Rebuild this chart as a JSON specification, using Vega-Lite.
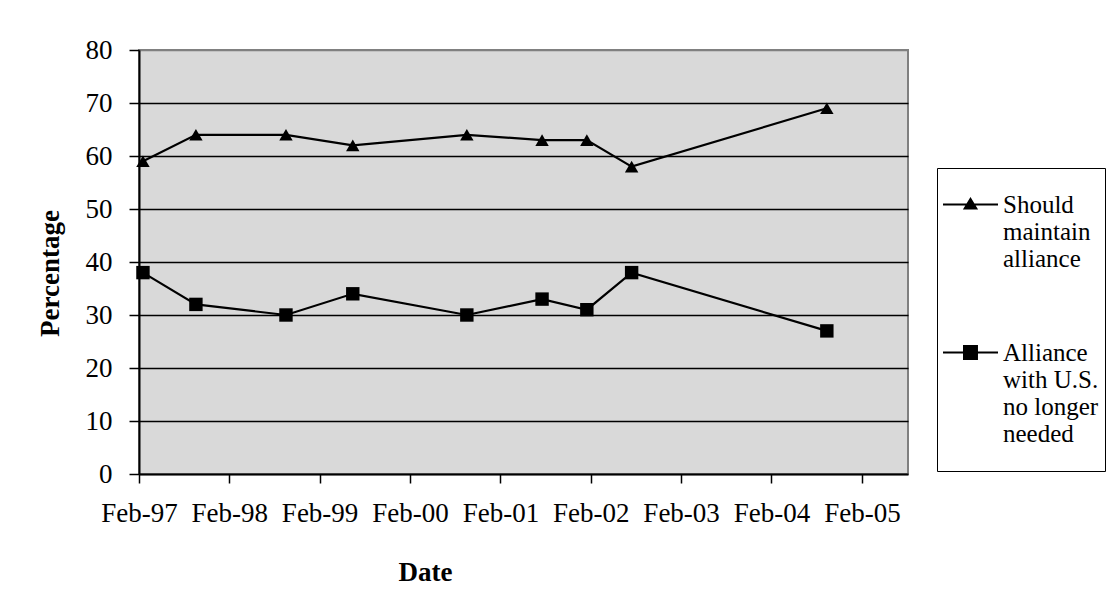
{
  "$schema": "https://vega.github.io/schema/vega-lite/v6.json",
  "width": 769,
  "height": 424,
  "autosize": {"type": "none"},
  "padding": {"left": 139, "top": 50, "right": 201, "bottom": 128},
  "background": "white",
  "config": {
    "font": "Liberation Serif",
    "view": {"fill": "#d9d9d9", "stroke": "#808080", "strokeWidth": 2}
  },
  "data": {
    "values": [
      {"date": "1997-02-17", "series": "Should maintain alliance", "value": 59},
      {"date": "1997-09-19", "series": "Should maintain alliance", "value": 64},
      {"date": "1998-09-18", "series": "Should maintain alliance", "value": 64},
      {"date": "1999-06-15", "series": "Should maintain alliance", "value": 62},
      {"date": "2000-09-18", "series": "Should maintain alliance", "value": 64},
      {"date": "2001-07-19", "series": "Should maintain alliance", "value": 63},
      {"date": "2002-01-16", "series": "Should maintain alliance", "value": 63},
      {"date": "2002-07-16", "series": "Should maintain alliance", "value": 58},
      {"date": "2004-09-12", "series": "Should maintain alliance", "value": 69},
      {"date": "1997-02-17", "series": "Alliance with U.S. no longer needed", "value": 38},
      {"date": "1997-09-19", "series": "Alliance with U.S. no longer needed", "value": 32},
      {"date": "1998-09-18", "series": "Alliance with U.S. no longer needed", "value": 30},
      {"date": "1999-06-15", "series": "Alliance with U.S. no longer needed", "value": 34},
      {"date": "2000-09-18", "series": "Alliance with U.S. no longer needed", "value": 30},
      {"date": "2001-07-19", "series": "Alliance with U.S. no longer needed", "value": 33},
      {"date": "2002-01-16", "series": "Alliance with U.S. no longer needed", "value": 31},
      {"date": "2002-07-16", "series": "Alliance with U.S. no longer needed", "value": 38},
      {"date": "2004-09-12", "series": "Alliance with U.S. no longer needed", "value": 27}
    ],
    "format": {"parse": {"date": "utc:'%Y-%m-%d'"}}
  },
  "encoding": {
    "x": {
      "field": "date",
      "type": "temporal",
      "scale": {
        "type": "utc",
        "domain": [
          {"year": 1997, "month": 2, "date": 1, "utc": true},
          {"year": 2005, "month": 8, "date": 6, "utc": true}
        ]
      },
      "axis": {
        "values": [
          {"year": 1997, "month": 2, "date": 1, "utc": true},
          {"year": 1998, "month": 2, "date": 1, "utc": true},
          {"year": 1999, "month": 2, "date": 1, "utc": true},
          {"year": 2000, "month": 2, "date": 1, "utc": true},
          {"year": 2001, "month": 2, "date": 1, "utc": true},
          {"year": 2002, "month": 2, "date": 1, "utc": true},
          {"year": 2003, "month": 2, "date": 1, "utc": true},
          {"year": 2004, "month": 2, "date": 1, "utc": true},
          {"year": 2005, "month": 2, "date": 1, "utc": true}
        ],
        "labelExpr": "utcFormat(datum.value, '%b-%y')",
        "grid": false,
        "tickSize": 9,
        "tickColor": "black",
        "tickWidth": 1.5,
        "domainColor": "black",
        "domainWidth": 2,
        "labelFontSize": 27,
        "labelColor": "black",
        "labelPadding": 17,
        "labelFlush": false,
        "labelOverlap": false,
        "title": "Date",
        "titleFontSize": 27,
        "titleFontWeight": "bold",
        "titleColor": "black",
        "titleX": 286,
        "titleY": 106,
        "titleAlign": "center",
        "titleBaseline": "alphabetic"
      }
    },
    "y": {
      "field": "value",
      "type": "quantitative",
      "scale": {"domain": [0, 80], "nice": false},
      "axis": {
        "values": [0, 10, 20, 30, 40, 50, 60, 70, 80],
        "grid": true,
        "gridColor": {"condition": {"test": "datum.value == 80 || datum.value == 0", "value": "#808080"}, "value": "black"},
        "gridWidth": 1.3,
        "tickSize": 10,
        "tickColor": "black",
        "tickWidth": 1.5,
        "domainColor": "black",
        "domainWidth": 2,
        "labelFontSize": 27,
        "labelColor": "black",
        "labelPadding": 17,
        "labelFlush": false,
        "title": "Percentage",
        "titleFontSize": 27,
        "titleFontWeight": "bold",
        "titleColor": "black",
        "titleX": -81,
        "titleY": 223,
        "titleAlign": "center",
        "titleBaseline": "alphabetic"
      }
    }
  },
  "layer": [
    {
      "mark": {"type": "line", "strokeWidth": 2.2, "color": "black"},
      "encoding": {"detail": {"field": "series", "type": "nominal"}}
    },
    {
      "mark": {"type": "point", "filled": true, "size": 180, "opacity": 1, "color": "black"},
      "encoding": {
        "shape": {
          "field": "series",
          "type": "nominal",
          "scale": {
            "domain": ["Should maintain alliance", "Alliance with U.S. no longer needed"],
            "range": ["triangle-up", "square"]
          },
          "legend": null
        }
      }
    },
    {
      "transform": [{"filter": "false"}],
      "mark": {"type": "point", "filled": true, "opacity": 1, "color": "black"},
      "encoding": {
        "shape": {
          "field": "series",
          "type": "nominal",
          "scale": {
            "domain": ["Should maintain alliance", "Alliance with U.S. no longer needed"],
            "range": [
              "M-1.026,-0.25L0.421,-0.25L0.421,-0.198L-1.026,-0.198ZM-0.303,-0.424L-0.103,-0.092L-0.503,-0.092Z",
              "M-1.026,-0.25L0.421,-0.25L0.421,-0.198L-1.026,-0.198ZM-0.5,-0.421L-0.106,-0.421L-0.106,-0.027L-0.5,-0.027Z"
            ]
          },
          "legend": {
            "orient": "none",
            "legendX": 798,
            "legendY": 118,
            "title": " ",
            "titleOrient": "bottom",
            "titleFontSize": 8,
            "titlePadding": 10,
            "strokeColor": "black",
            "fillColor": "white",
            "padding": 6,
            "symbolSize": 5776,
            "symbolStrokeWidth": 2,
            "symbolFillColor": "black",
            "symbolOpacity": 1,
            "labelFont": "Liberation Serif",
            "labelFontSize": 25,
            "labelColor": "black",
            "labelLimit": 400,
            "labelOffset": -18,
            "labelBaseline": "alphabetic",
            "rowPadding": 50,
            "labelExpr": "datum.label == 'Should maintain alliance' ? ['Should', 'maintain', 'alliance'] : ['Alliance', 'with U.S.', 'no longer', 'needed']",
            "encode": {
              "legend": {"update": {"strokeWidth": {"value": 1.5}}},
              "symbols": {"update": {"fill": {"value": "black"}, "opacity": {"value": 1}}},
              "labels": {"update": {"lineHeight": {"value": 26.7}}}
            }
          }
        }
      }
    }
  ],
  "resolve": {"scale": {"shape": "independent"}}
}
